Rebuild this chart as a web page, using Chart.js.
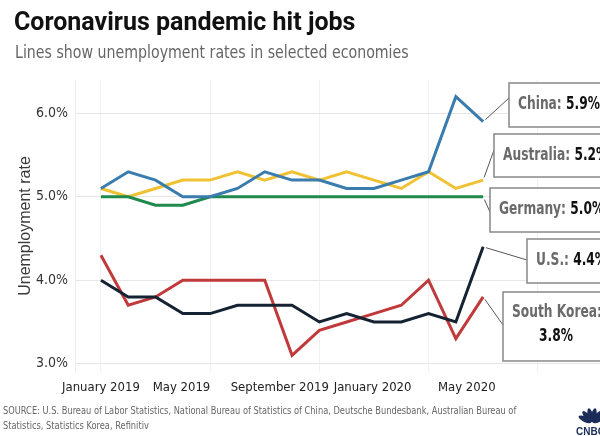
<!DOCTYPE html>
<html>
<head>
<meta charset="utf-8">
<script src="https://cdn.jsdelivr.net/npm/chart.js@4.4.0/dist/chart.umd.min.js"></script>
<style>
  html, body { margin: 0; padding: 0; background: #fff; }
  #wrap { position: relative; width: 600px; height: 436px; overflow: hidden; }
  #grafik { position: absolute; left: 0; top: 0; }
  .judul { position: absolute; left: 14px; top: 7px; font: 700 25px Roboto, sans-serif; color: #111; white-space: nowrap; }
  .sub { position: absolute; left: 15px; top: 41px; font: 18px 'DejaVu Sans Condensed', sans-serif; color: #666; white-space: nowrap;
         transform: scaleX(0.875); transform-origin: 0 0; }
  .sumber { position: absolute; left: 3px; top: 403px; font: 10px/15px 'DejaVu Sans Condensed', sans-serif; color: #666; white-space: nowrap;
            transform: scaleX(0.92); transform-origin: 0 0; }
</style>
</head>
<body>
<div id="wrap">
  <canvas id="grafik" width="600" height="436"></canvas>
  <div class="judul">Coronavirus pandemic hit jobs</div>
  <div class="sub">Lines show unemployment rates in selected economies</div>
  <div class="sumber">SOURCE: U.S. Bureau of Labor Statistics, National Bureau of Statistics of China, Deutsche Bundesbank, Australian Bureau of<br>Statistics, Statistics Korea, Refinitiv</div>
</div>
<script>
// monthly data, Jan 2019 - Mar 2020
const months = ['Jan 2019', 'Feb 2019', 'Mar 2019', 'Apr 2019', 'May 2019', 'Jun 2019', 'Jul 2019', 'Aug 2019',
  'Sep 2019', 'Oct 2019', 'Nov 2019', 'Dec 2019', 'Jan 2020', 'Feb 2020', 'Mar 2020'];
const china      = [5.1, 5.3, 5.2, 5.0, 5.0, 5.1, 5.3, 5.2, 5.2, 5.1, 5.1, 5.2, 5.3, 6.2, 5.9];
const australia  = [5.1, 5.0, 5.1, 5.2, 5.2, 5.3, 5.2, 5.3, 5.2, 5.3, 5.2, 5.1, 5.3, 5.1, 5.2];
const germany    = [5.0, 5.0, 4.9, 4.9, 5.0, 5.0, 5.0, 5.0, 5.0, 5.0, 5.0, 5.0, 5.0, 5.0, 5.0];
const us         = [4.0, 3.8, 3.8, 3.6, 3.6, 3.7, 3.7, 3.7, 3.5, 3.6, 3.5, 3.5, 3.6, 3.5, 4.4];
const southKorea = [4.3, 3.7, 3.8, 4.0, 4.0, 4.0, 4.0, 3.1, 3.4, 3.5, 3.6, 3.7, 4.0, 3.3, 3.8];

const yTicks = [3, 4, 5, 6];
const tickLabels = ['January 2019', 'May 2019', 'September 2019', 'January 2020', 'May 2020'];
const tickAt = [0, 2.95, 6.55, 9.95, 13.4]; // where the labels sit (month index), as in the picture
const gridAt = [0, 4, 8, 12, 16];

const fontNarrow = "'DejaVu Sans Condensed', sans-serif";

const series = [
  { name: 'China', data: china, color: '#3a7cad', box: { x: 509, y: 83, h: 44, cy: 98 } },
  { name: 'Australia', data: australia, color: '#f0c132', box: { x: 494, y: 134, h: 43, cy: 150 } },
  { name: 'Germany', data: germany, color: '#1f8a4c', box: { x: 490, y: 188, h: 44, cy: 212 } },
  { name: 'U.S.', data: us, color: '#152232', box: { x: 527, y: 239, h: 44, cy: 260 } },
  { name: 'South Korea', data: southKorea, color: '#c0393b', box: { x: 503, y: 292, h: 69, cy: 325, twoLines: true } }
];

// teks dipersempit (fontnya lebih lebar dari aslinya)
function narrowText(c, txt, x, y, sx) {
  c.save();
  c.translate(x, y);
  c.scale(sx, 1);
  c.fillText(txt, 0, 0);
  c.restore();
  return c.measureText(txt).width * sx;
}

// kotak label di kanan
const calloutPlugin = {
  id: 'callouts',
  afterDraw(chart) {
    const c = chart.ctx;
    const xs = chart.scales.x, ys = chart.scales.y;
    const sx = 0.8;
    c.save();
    series.forEach(s => {
      const last = s.data[s.data.length - 1];
      const px = xs.getPixelForValue(s.data.length - 1);
      const py = ys.getPixelForValue(last);
      const b = s.box;
      // connector
      const dx = b.x - px, dy = b.cy - py, d = Math.hypot(dx, dy);
      c.strokeStyle = '#555';
      c.lineWidth = 1;
      c.beginPath();
      c.moveTo(px + dx / d * 3, py + dy / d * 3);
      c.lineTo(b.x, b.cy);
      c.stroke();
      // box
      c.fillStyle = '#fff';
      c.fillRect(b.x, b.y, 120, b.h);
      c.strokeStyle = '#888';
      c.lineWidth = 1.5;
      c.strokeRect(b.x, b.y, 120, b.h);
      const val = last.toFixed(1) + '%';
      c.textBaseline = 'middle';
      c.textAlign = 'left';
      c.font = 'bold 17px ' + fontNarrow;
      if (b.twoLines) {
        c.fillStyle = '#6a6a6a';
        narrowText(c, s.name + ':', b.x + 9, b.y + 21, sx);
        c.fillStyle = '#111';
        c.textAlign = 'center';
        narrowText(c, val, b.x + 53, b.y + 45, sx);
      } else {
        c.fillStyle = '#6a6a6a';
        const w = narrowText(c, s.name + ': ', b.x + 9, b.y + b.h / 2, sx);
        c.fillStyle = '#111';
        narrowText(c, val, b.x + 9 + w, b.y + b.h / 2, sx);
      }
    });
    c.restore();

    // CNBC peacock, pojok kanan bawah
    c.save();
    c.fillStyle = '#1b2c58';
    const bx = 592, by = 423;
    for (let k = 0; k < 6; k++) {
      const a = -Math.PI * (0.85 - k * 0.14);
      c.beginPath();
      c.ellipse(bx + Math.cos(a) * 8, by + Math.sin(a) * 8, 7, 2.6, a, 0, Math.PI * 2);
      c.fill();
    }
    c.font = '900 10px Liberation Sans, sans-serif';
    c.textBaseline = 'alphabetic';
    c.fillText('CNBC', 576, 435);
    c.restore();
  }
};

const ctx = document.getElementById('grafik');
new Chart(ctx, {
  type: 'line',
  data: {
    labels: months,
    datasets: series.map((s, i) => ({
      label: s.name,
      data: s.data.map((v, k) => ({ x: k, y: v })),
      borderColor: s.color,
      backgroundColor: s.color,
      order: [0, 2, 1, 3, 4][i]
    }))
  },
  options: {
    responsive: false,
    animation: false,
    layout: { padding: { top: 80, right: 0, bottom: 34, left: 0 } },
    plugins: { legend: { display: false }, tooltip: { enabled: false } },
    elements: { point: { radius: 0 }, line: { borderWidth: 3, tension: 0, borderJoinStyle: 'miter' } },
    scales: {
      x: {
        type: 'linear', min: -0.95, max: 18.28,
        afterBuildTicks: a => { a.ticks = gridAt.map(v => ({ value: v })); },
        ticks: { display: false },
        grid: { color: '#f1f1f1', drawTicks: false },
        border: { display: false },
        afterFit: s => { s.height = 0; }
      },
      x2: {
        type: 'linear', position: 'bottom', min: -0.95, max: 18.28,
        afterBuildTicks: a => { a.ticks = tickAt.map(v => ({ value: v })); },
        ticks: {
          autoSkip: false, maxRotation: 0, padding: 8,
          color: '#222', font: { family: fontNarrow, size: 13 },
          callback: (v, i) => tickLabels[i]
        },
        grid: { display: false, drawTicks: false },
        border: { display: false },
        afterFit: s => { s.height = 30; }
      },
      y: {
        min: 2.9, max: 6.4,
        afterBuildTicks: a => { a.ticks = yTicks.map(v => ({ value: v })); },
        ticks: {
          padding: 7, color: '#333', font: { family: fontNarrow, size: 14 },
          callback: v => v.toFixed(1) + '%'
        },
        grid: { color: '#e6e6e6', drawTicks: false },
        border: { color: '#ececec' },
        title: {
          display: true, text: 'Unemployment rate', color: '#3a3a3a',
          font: { family: "'Liberation Sans', sans-serif", size: 16 },
          padding: { top: 16, bottom: 0 }
        },
        afterFit: s => { s.width = 75; }
      }
    }
  },
  plugins: [calloutPlugin]
});
</script>
</body>
</html>
